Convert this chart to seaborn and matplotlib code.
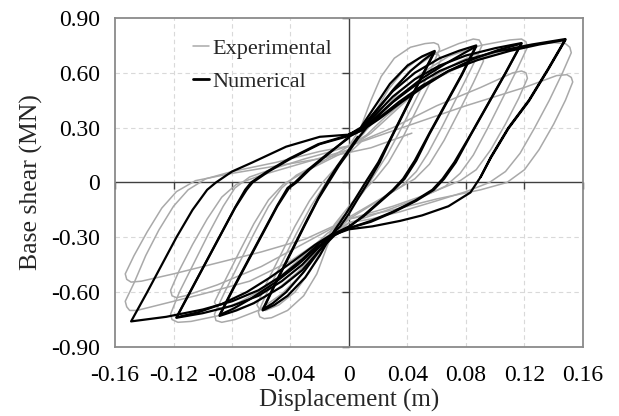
import numpy as np
import pandas as pd
import matplotlib
matplotlib.use("Agg")
import matplotlib.pyplot as plt
import seaborn as sns
from matplotlib.lines import Line2D

# ---------------- axis ticks ----------------
x_ticks = [-0.16, -0.12, -0.08, -0.04, 0.0, 0.04, 0.08, 0.12, 0.16]
x_tick_labels = ["-0.16", "-0.12", "-0.08", "-0.04", "0", "0.04", "0.08", "0.12", "0.16"]
y_ticks = [-0.90, -0.60, -0.30, 0.0, 0.30, 0.60, 0.90]
y_tick_labels = ["-0.90", "-0.60", "-0.30", "0", "0.30", "0.60", "0.90"]
series_names = ["Experimental", "Numerical"]

# ---------------- Numerical cycles (displacement m, base shear MN) ----------------
num_c1 = [(0.000, 0.262), (0.008, 0.300), (0.018, 0.420), (0.028, 0.540), (0.040, 0.640), (0.050, 0.690), (0.0586, 0.720),
          (0.049, 0.570), (0.039, 0.410), (0.029, 0.250), (0.020, 0.110), (0.012, 0.010), (0.005, -0.080), (-0.002, -0.170),
          (-0.008, -0.240), (-0.013, -0.300), (-0.020, -0.400), (-0.030, -0.520), (-0.042, -0.620), (-0.051, -0.670), (-0.059, -0.700),
          (-0.050, -0.550), (-0.040, -0.390), (-0.030, -0.230), (-0.021, -0.090), (-0.014, 0.000), (-0.007, 0.090), (0.000, 0.170),
          (0.006, 0.240), (0.012, 0.300)]
num_c1b = [(0.000, 0.262), (0.008, 0.292), (0.018, 0.385), (0.030, 0.505), (0.042, 0.610), (0.051, 0.670), (0.0586, 0.715),
           (0.049, 0.565), (0.039, 0.405), (0.029, 0.245), (0.021, 0.110), (0.013, 0.000), (0.006, -0.090), (0.000, -0.170),
           (-0.006, -0.240), (-0.012, -0.285), (-0.020, -0.370), (-0.031, -0.490), (-0.043, -0.600), (-0.052, -0.660), (-0.059, -0.695),
           (-0.050, -0.545), (-0.040, -0.385), (-0.030, -0.225), (-0.021, -0.085), (-0.015, 0.000), (-0.008, 0.090), (0.000, 0.180),
           (0.006, 0.250)]
num_c2 = [(0.000, 0.262), (0.008, 0.295), (0.018, 0.390), (0.030, 0.500), (0.045, 0.600), (0.062, 0.680), (0.075, 0.720), (0.087, 0.750),
          (0.077, 0.590), (0.066, 0.430), (0.055, 0.270), (0.045, 0.120), (0.037, 0.020), (0.030, -0.040), (0.020, -0.110), (0.010, -0.180),
          (0.000, -0.245), (-0.010, -0.290), (-0.020, -0.370), (-0.032, -0.480), (-0.046, -0.570), (-0.065, -0.660), (-0.077, -0.700),
          (-0.0885, -0.730), (-0.079, -0.580), (-0.069, -0.430), (-0.059, -0.280), (-0.049, -0.130), (-0.041, -0.030), (-0.036, 0.000),
          (-0.027, 0.070), (-0.015, 0.150), (0.000, 0.250)]
num_c2b = [(0.000, 0.250), (0.009, 0.290), (0.020, 0.370), (0.034, 0.470), (0.050, 0.570), (0.066, 0.650), (0.078, 0.705), (0.087, 0.745),
           (0.077, 0.585), (0.066, 0.425), (0.055, 0.265), (0.046, 0.120), (0.038, 0.020), (0.030, -0.045), (0.020, -0.115), (0.010, -0.185),
           (0.000, -0.240), (-0.010, -0.280), (-0.021, -0.350), (-0.035, -0.450), (-0.051, -0.550), (-0.068, -0.640), (-0.079, -0.690),
           (-0.0885, -0.725), (-0.079, -0.575), (-0.069, -0.425), (-0.059, -0.275), (-0.049, -0.125), (-0.042, -0.030), (-0.037, 0.000),
           (-0.028, 0.070), (-0.015, 0.155), (0.000, 0.245)]
num_c3 = [(0.000, 0.262), (0.008, 0.292), (0.018, 0.370), (0.030, 0.470), (0.045, 0.565), (0.062, 0.640), (0.080, 0.695), (0.100, 0.735),
          (0.118, 0.763), (0.107, 0.600), (0.095, 0.430), (0.083, 0.260), (0.072, 0.110), (0.064, 0.020), (0.057, -0.040), (0.045, -0.100),
          (0.030, -0.160), (0.015, -0.210), (0.000, -0.250), (-0.010, -0.285), (-0.020, -0.350), (-0.032, -0.450), (-0.046, -0.540),
          (-0.062, -0.620), (-0.080, -0.675), (-0.100, -0.715), (-0.118, -0.740), (-0.108, -0.590), (-0.098, -0.440), (-0.088, -0.290),
          (-0.078, -0.140), (-0.070, -0.040), (-0.066, 0.000), (-0.055, 0.060), (-0.040, 0.130), (-0.020, 0.210), (0.000, 0.255)]
num_c3b = [(0.000, 0.255), (0.009, 0.285), (0.021, 0.350), (0.036, 0.440), (0.052, 0.530), (0.068, 0.610), (0.085, 0.675), (0.102, 0.725),
           (0.118, 0.760), (0.107, 0.597), (0.095, 0.427), (0.083, 0.257), (0.073, 0.110), (0.065, 0.020), (0.058, -0.040), (0.046, -0.100),
           (0.031, -0.160), (0.015, -0.215), (0.000, -0.250), (-0.011, -0.280), (-0.023, -0.340), (-0.038, -0.430), (-0.054, -0.520),
           (-0.070, -0.600), (-0.087, -0.665), (-0.103, -0.710), (-0.118, -0.738), (-0.108, -0.588), (-0.098, -0.438), (-0.088, -0.288),
           (-0.078, -0.138), (-0.071, -0.040), (-0.067, 0.000), (-0.056, 0.060), (-0.041, 0.130), (-0.021, 0.210), (0.000, 0.260)]
num_c4 = [(0.000, 0.262), (0.008, 0.290), (0.018, 0.350), (0.030, 0.440), (0.045, 0.530), (0.062, 0.610), (0.080, 0.670), (0.100, 0.715),
          (0.125, 0.755), (0.148, 0.785), (0.136, 0.620), (0.123, 0.450), (0.109, 0.300), (0.097, 0.140), (0.090, 0.030), (0.083, -0.055),
          (0.068, -0.130), (0.050, -0.180), (0.035, -0.210), (0.016, -0.240), (0.000, -0.256), (-0.010, -0.285), (-0.020, -0.330),
          (-0.032, -0.420), (-0.046, -0.510), (-0.062, -0.590), (-0.080, -0.650), (-0.100, -0.695), (-0.125, -0.735), (-0.149, -0.760),
          (-0.138, -0.600), (-0.128, -0.450), (-0.118, -0.300), (-0.107, -0.150), (-0.097, -0.040), (-0.091, 0.000), (-0.080, 0.060),
          (-0.066, 0.110), (-0.043, 0.196), (-0.020, 0.250), (0.000, 0.262), (0.008, 0.290), (0.020, 0.350), (0.034, 0.440),
          (0.050, 0.530), (0.068, 0.610), (0.088, 0.670), (0.110, 0.720), (0.130, 0.755), (0.148, 0.780), (0.136, 0.615),
          (0.123, 0.445), (0.109, 0.295), (0.097, 0.135), (0.090, 0.030)]

# ---------------- Experimental cycles ----------------
exp_g1 = [(0.000, 0.200), (0.008, 0.300), (0.015, 0.450), (0.022, 0.580), (0.031, 0.680), (0.042, 0.740), (0.052, 0.760), (0.058, 0.765),
          (0.061, 0.755), (0.062, 0.730), (0.056, 0.620), (0.046, 0.460), (0.036, 0.300), (0.026, 0.150), (0.018, 0.050), (0.010, -0.050),
          (0.000, -0.150), (-0.008, -0.220), (-0.015, -0.350), (-0.022, -0.500), (-0.031, -0.620), (-0.042, -0.700), (-0.053, -0.740),
          (-0.058, -0.745), (-0.061, -0.735), (-0.062, -0.710), (-0.056, -0.600), (-0.046, -0.440), (-0.036, -0.280), (-0.026, -0.130),
          (-0.018, -0.030), (-0.010, 0.070), (0.000, 0.160), (0.008, 0.220)]
exp_g1b = [(0.000, 0.180), (0.010, 0.270), (0.018, 0.390), (0.027, 0.510), (0.037, 0.610), (0.048, 0.680), (0.057, 0.705), (0.061, 0.700),
           (0.063, 0.675), (0.057, 0.570), (0.047, 0.410), (0.037, 0.250), (0.027, 0.110), (0.018, 0.020), (0.008, -0.060), (0.000, -0.130),
           (-0.010, -0.230), (-0.018, -0.360), (-0.027, -0.490), (-0.037, -0.600), (-0.048, -0.670), (-0.057, -0.700), (-0.061, -0.695),
           (-0.063, -0.670), (-0.057, -0.560), (-0.047, -0.400), (-0.037, -0.240), (-0.027, -0.100), (-0.017, 0.010), (-0.007, 0.100),
           (0.000, 0.160)]
exp_g2 = [(0.000, 0.200), (0.010, 0.280), (0.020, 0.400), (0.032, 0.530), (0.045, 0.630), (0.060, 0.710), (0.075, 0.760), (0.085, 0.785),
          (0.089, 0.780), (0.091, 0.750), (0.084, 0.630), (0.074, 0.470), (0.064, 0.310), (0.054, 0.160), (0.046, 0.060), (0.036, -0.020),
          (0.024, -0.080), (0.010, -0.150), (0.000, -0.200), (-0.010, -0.280), (-0.020, -0.380), (-0.032, -0.500), (-0.046, -0.610),
          (-0.062, -0.700), (-0.078, -0.750), (-0.087, -0.765), (-0.091, -0.755), (-0.092, -0.720), (-0.085, -0.600), (-0.075, -0.440),
          (-0.065, -0.280), (-0.055, -0.130), (-0.046, -0.030), (-0.036, 0.040), (-0.022, 0.100), (-0.010, 0.150), (0.000, 0.200)]
exp_g2b = [(0.000, 0.190), (0.015, 0.270), (0.030, 0.380), (0.045, 0.490), (0.060, 0.590), (0.075, 0.660), (0.086, 0.700), (0.090, 0.695),
           (0.092, 0.665), (0.085, 0.545), (0.075, 0.385), (0.065, 0.230), (0.055, 0.100), (0.045, 0.020), (0.030, -0.050), (0.015, -0.120),
           (0.000, -0.190), (-0.015, -0.280), (-0.030, -0.390), (-0.045, -0.500), (-0.060, -0.590), (-0.075, -0.655), (-0.086, -0.690),
           (-0.090, -0.685), (-0.092, -0.655), (-0.085, -0.540), (-0.075, -0.380), (-0.065, -0.225), (-0.055, -0.095), (-0.045, -0.010),
           (-0.030, 0.060), (-0.015, 0.120), (0.000, 0.180)]
exp_g3 = [(0.000, 0.200), (0.010, 0.270), (0.022, 0.380), (0.035, 0.500), (0.050, 0.600), (0.068, 0.690), (0.090, 0.750), (0.110, 0.780),
          (0.118, 0.785), (0.121, 0.770), (0.122, 0.740), (0.115, 0.620), (0.105, 0.460), (0.095, 0.300), (0.085, 0.150), (0.076, 0.050),
          (0.066, -0.020), (0.050, -0.080), (0.030, -0.140), (0.012, -0.190), (0.000, -0.220), (-0.010, -0.290), (-0.022, -0.380),
          (-0.035, -0.490), (-0.050, -0.590), (-0.068, -0.670), (-0.090, -0.730), (-0.108, -0.760), (-0.117, -0.765), (-0.121, -0.750),
          (-0.122, -0.720), (-0.116, -0.600), (-0.106, -0.440), (-0.096, -0.280), (-0.086, -0.130), (-0.078, -0.030), (-0.068, 0.030),
          (-0.050, 0.080), (-0.030, 0.130), (-0.012, 0.170), (0.000, 0.200)]
exp_g3b = [(0.000, 0.200), (0.030, 0.300), (0.060, 0.420), (0.090, 0.520), (0.112, 0.600), (0.118, 0.610), (0.121, 0.600), (0.122, 0.570),
           (0.116, 0.460), (0.107, 0.320), (0.097, 0.180), (0.087, 0.070), (0.076, 0.010), (0.055, -0.060), (0.030, -0.130), (0.000, -0.200),
           (-0.030, -0.330), (-0.060, -0.460), (-0.090, -0.560), (-0.112, -0.620), (-0.118, -0.630), (-0.121, -0.620), (-0.122, -0.590),
           (-0.116, -0.480), (-0.107, -0.340), (-0.097, -0.200), (-0.087, -0.080), (-0.077, -0.010), (-0.060, 0.040), (-0.030, 0.110),
           (0.000, 0.180)]
exp_g4 = [(0.000, 0.200), (0.012, 0.260), (0.025, 0.360), (0.040, 0.460), (0.060, 0.570), (0.080, 0.650), (0.100, 0.710), (0.120, 0.750),
          (0.140, 0.765), (0.148, 0.760), (0.151, 0.740), (0.152, 0.710), (0.146, 0.600), (0.137, 0.450), (0.127, 0.300), (0.117, 0.160),
          (0.107, 0.060), (0.096, 0.000), (0.080, -0.050), (0.060, -0.100), (0.035, -0.160), (0.015, -0.200), (0.000, -0.220),
          (-0.020, -0.320), (-0.040, -0.430), (-0.068, -0.540), (-0.100, -0.610), (-0.130, -0.670), (-0.145, -0.700), (-0.150, -0.700),
          (-0.152, -0.680), (-0.153, -0.650), (-0.147, -0.550), (-0.139, -0.400), (-0.130, -0.260), (-0.120, -0.130), (-0.110, -0.040),
          (-0.098, 0.020), (-0.080, 0.060), (-0.050, 0.110), (-0.020, 0.170), (0.000, 0.200)]
exp_g4b = [(0.000, 0.200), (0.040, 0.310), (0.080, 0.420), (0.120, 0.520), (0.142, 0.585), (0.149, 0.590), (0.152, 0.575), (0.153, 0.550),
           (0.148, 0.450), (0.140, 0.320), (0.130, 0.180), (0.120, 0.070), (0.108, 0.000), (0.090, -0.040), (0.060, -0.090), (0.030, -0.150),
           (0.000, -0.200), (-0.030, -0.310), (-0.060, -0.380), (-0.090, -0.440), (-0.120, -0.500), (-0.142, -0.540), (-0.149, -0.545),
           (-0.152, -0.530), (-0.153, -0.500), (-0.147, -0.400), (-0.138, -0.270), (-0.128, -0.140), (-0.118, -0.050), (-0.105, 0.010),
           (-0.080, 0.050), (-0.050, 0.090), (-0.020, 0.130), (0.015, 0.190), (0.043, 0.270)]

numerical_cycles = [num_c1, num_c1b, num_c2, num_c2b, num_c3, num_c3b, num_c4]
experimental_cycles = [exp_g1, exp_g1b, exp_g2, exp_g2b, exp_g3, exp_g3b, exp_g4, exp_g4b]


def to_frame(cycles, name):
    rows = []
    for ci, cyc in enumerate(cycles):
        for order, (xv, yv) in enumerate(cyc):
            rows.append({"x": xv, "y": yv, "cycle": f"{name}{ci}", "order": order, "series": name})
    return pd.DataFrame(rows)


df_exp = to_frame(experimental_cycles, series_names[0])
df_num = to_frame(numerical_cycles, series_names[1])

# ---------------- style ----------------
sns.set_theme(style="white")
plt.rcParams["font.family"] = ["Liberation Serif", "DejaVu Serif"]

exp_color = "#a9a9a9"
num_color = "#000000"
axis_gray = "#8a8a8a"
zero_color = "#404040"
grid_color = "#d9d9d9"

fig = plt.figure(figsize=(6.19, 4.16), dpi=100)
ax = fig.add_axes([0.1858, 0.1659, 0.7560, 0.7908])

# grid
for xv in x_ticks[1:-1]:
    if xv != 0:
        ax.axvline(xv, color=grid_color, lw=0.8, ls=(0, (4, 3)), zorder=0)
for yv in y_ticks[1:-1]:
    if yv != 0:
        ax.axhline(yv, color=grid_color, lw=0.8, ls=(0, (4, 3)), zorder=0)

# zero axes with tick marks
ax.axhline(0, color=zero_color, lw=1.0, zorder=1)
ax.axvline(0, color=zero_color, lw=1.0, zorder=1)
ax.plot(x_ticks, [0] * len(x_ticks), ls="none", marker=3, ms=5, mew=1.0, color=zero_color, clip_on=False, zorder=1)
ax.plot([0] * len(y_ticks), y_ticks, ls="none", marker=0, ms=5, mew=1.0, color=zero_color, clip_on=False, zorder=1)

sns.lineplot(data=df_exp, x="x", y="y", units="cycle", estimator=None, sort=False,
             color=exp_color, lw=1.1, ax=ax, legend=False, zorder=2)
sns.lineplot(data=df_num, x="x", y="y", units="cycle", estimator=None, sort=False,
             color=num_color, lw=1.6, ax=ax, legend=False, zorder=3)

ax.set_xlim(x_ticks[0], x_ticks[-1])
ax.set_ylim(y_ticks[0], y_ticks[-1])
ax.set_xticks(x_ticks)
ax.set_xticklabels(x_tick_labels)
ax.set_yticks(y_ticks)
ax.set_yticklabels(y_tick_labels)
ax.tick_params(axis="both", length=0, labelsize=17, colors="black")
ax.tick_params(axis="x", pad=13)
ax.tick_params(axis="y", pad=11)
for sp in ax.spines.values():
    sp.set_color(axis_gray)
    sp.set_linewidth(1.3)

ax.set_xlabel("Displacement (m)", fontsize=18, labelpad=2)
ax.set_ylabel("Base shear (MN)", fontsize=18.5, labelpad=6)

handles = [Line2D([0], [0], color=exp_color, lw=1.1), Line2D([0], [0], color=num_color, lw=2.0)]
ax.legend(handles, series_names, loc="upper left", bbox_to_anchor=(0.148, 0.965), frameon=False,
          fontsize=16, handlelength=0.7, handletextpad=0.15, labelspacing=0.55, borderaxespad=0)

fig.savefig("out.png", dpi=100)
